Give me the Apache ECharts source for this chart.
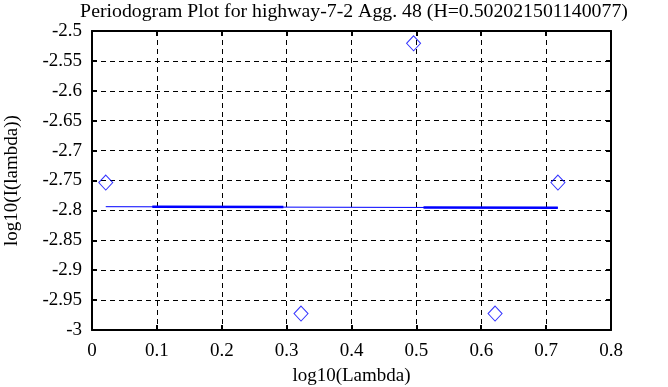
<!DOCTYPE html>
<html>
<head>
<meta charset="utf-8">
<script src="https://cdn.jsdelivr.net/npm/echarts@6/dist/echarts.min.js"></script>
<style>html,body{margin:0;padding:0;background:#fff}#c{width:668px;height:387px}</style>
</head>
<body>
<div id="c"></div>
<script>
const titleText = 'Periodogram Plot for highway-7-2 Agg. 48 (H=0.502021501140077)';
const xName = 'log10(Lambda)';
const yName = 'log10(I(lambda))';
const pointX = [0.0212, 0.3222, 0.4957, 0.6213, 0.7182];
const pointY = [-2.7535, -2.9725, -2.5206, -2.9725, -2.7535];
const fitX = [0.0212, 0.7182];
const fitY = [-2.7938, -2.7956];
const thickSeg1X = [0.093, 0.295];
const thickSeg1Y = [-2.7940, -2.7945];
const thickSeg2X = [0.511, 0.718];
const thickSeg2Y = [-2.7950, -2.7956];

const FONT = 'Liberation Serif';
const zip = (a, b) => a.map((v, i) => [v, b[i]]);
const chart = echarts.init(document.getElementById('c'));
const axisLineStyle = { color: '#000', width: 2 };
const split = { show: true, lineStyle: { color: '#000', type: [5, 4], width: 1 } };
chart.setOption({
  animation: false,
  backgroundColor: '#fff',
  title: { text: titleText, left: 349, top: -3, textAlign: 'center',
    textStyle: { fontFamily: FONT, fontSize: 19.8, fontWeight: 'normal', color: '#000' } },
  grid: { left: 92, right: 57, top: 31, bottom: 57, show: false, containLabel: false, outerBoundsMode: 'none' },
  xAxis: [{
    type: 'value', min: 0, max: 0.8, interval: 0.1, position: 'bottom',
    name: xName, nameLocation: 'middle', nameGap: 37,
    nameTextStyle: { fontFamily: FONT, fontSize: 19, color: '#000' },
    axisLine: { show: true, onZero: false, lineStyle: axisLineStyle },
    axisTick: { show: true, inside: true, length: 5, lineStyle: axisLineStyle },
    axisLabel: { fontFamily: FONT, fontSize: 19, color: '#000', margin: 12 },
    splitLine: split
  }, {
    type: 'value', min: 0, max: 0.8, interval: 0.1, position: 'top',
    axisLine: { show: true, onZero: false, lineStyle: axisLineStyle },
    axisTick: { show: true, inside: true, length: 5, lineStyle: axisLineStyle },
    axisLabel: { show: false }, splitLine: { show: false }
  }],
  yAxis: [{
    type: 'value', min: -3, max: -2.5, interval: 0.05, position: 'left',
    name: yName, nameLocation: 'middle', nameGap: 70, nameRotate: 90,
    nameTextStyle: { fontFamily: FONT, fontSize: 19, color: '#000' },
    axisLine: { show: true, onZero: false, lineStyle: axisLineStyle },
    axisTick: { show: true, inside: true, length: 5, lineStyle: axisLineStyle },
    axisLabel: { fontFamily: FONT, fontSize: 19, color: '#000', margin: 10 },
    splitLine: split
  }, {
    type: 'value', min: -3, max: -2.5, interval: 0.05, position: 'right',
    axisLine: { show: true, onZero: false, lineStyle: axisLineStyle },
    axisTick: { show: true, inside: true, length: 5, lineStyle: axisLineStyle },
    axisLabel: { show: false }, splitLine: { show: false }
  }],
  series: [{
    type: 'line', data: zip(fitX, fitY), symbol: 'none',
    lineStyle: { color: '#0000ff', width: 1 }, z: 3
  }, {
    type: 'line', data: zip(thickSeg1X, thickSeg1Y), symbol: 'none',
    lineStyle: { color: '#0000ff', width: 2.5 }, z: 3
  }, {
    type: 'line', data: zip(thickSeg2X, thickSeg2Y), symbol: 'none',
    lineStyle: { color: '#0000ff', width: 2.5 }, z: 3
  }, {
    type: 'scatter', data: zip(pointX, pointY), symbol: 'diamond', symbolSize: [14, 15],
    itemStyle: { color: 'rgba(255,255,255,0)', borderColor: '#0000ff', borderWidth: 1 }, z: 4
  }]
});
</script>
</body>
</html>
